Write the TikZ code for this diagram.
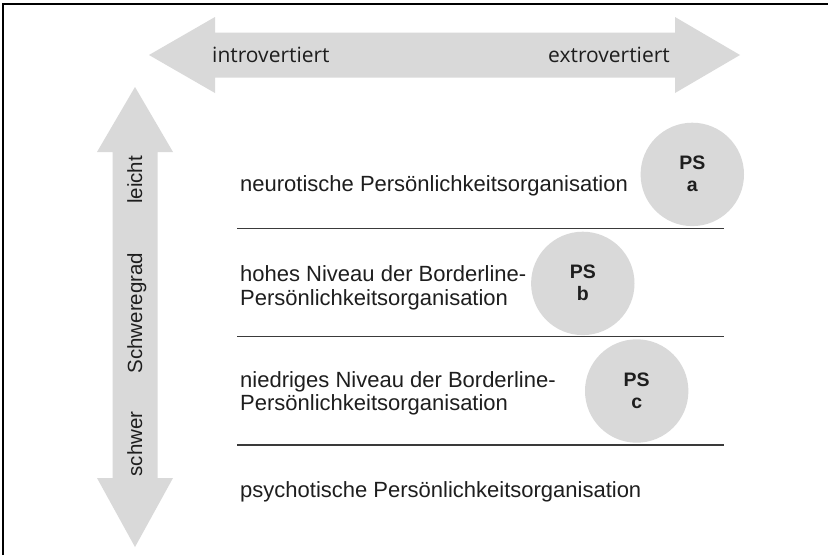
\documentclass[tikz,border=0pt]{standalone}
\usepackage{fontspec}
\setmainfont{Liberation Sans}
\newfontfamily\arrowfont{Open Sans}
\usetikzlibrary{calc}
\definecolor{lightfill}{HTML}{D9D9D9}
\definecolor{ink}{HTML}{1E1E1E}
\definecolor{rulegray}{HTML}{3A3A3A}
\begin{document}
\begin{tikzpicture}[x=1pt,y=-1pt,
  lbl/.style={anchor=base west, inner sep=0pt, text=ink, font=\fontsize{22}{24}\selectfont},
  axislbl/.style={inner sep=0pt, text=ink, font=\arrowfont\fontsize{21}{24}\selectfont},
  vlbl/.style={rotate=90, anchor=base, inner sep=0pt, text=ink, font=\fontsize{20.5}{24}\selectfont},
  pscircle/.style={circle, fill=lightfill, minimum size=103.4pt, inner sep=0pt},
  pstext/.style={anchor=base, inner sep=0pt, text=ink, font=\bfseries\fontsize{19.5}{21}\selectfont},
  seprule/.style={draw=rulegray, line width=1.4pt}]
\useasboundingbox (0,0) rectangle (828,555);
\fill[white] (0,0) rectangle (828,555);
\draw[line width=1.6pt, black] (3,555) -- (3,4) -- (828,4);
% horizontal double arrow
\fill[lightfill] (149,55) -- (215,17) -- (215,32.5) -- (675,32.5) -- (675,17) -- (740,55)
  -- (675,93) -- (675,77.5) -- (215,77.5) -- (215,93) -- cycle;
% vertical double arrow
\fill[lightfill] (135,87) -- (173,152) -- (157.5,152) -- (157.5,478) -- (173,478) -- (135,547)
  -- (97,478) -- (112.5,478) -- (112.5,152) -- (97,152) -- cycle;
\node[axislbl, anchor=base west] (intro) at (212,62) {introvertiert};
\node[axislbl, anchor=base east] (extro) at (670,62) {extrovertiert};
\node[vlbl] (leicht) at (142,180) {leicht};
\node[vlbl] (grad) at (142,313) {Schweregrad};
\node[vlbl] (schwer) at (142,444) {schwer};
% separators
\draw[seprule] (237,228.5) -- (724,228.5);
\draw[seprule] (237,336.7) -- (724,336.7);
\draw[seprule] (237,445) -- (724,445);
% circles
\node[pscircle] (psa) at (692.3,174.4) {};
\node[pscircle] (psb) at (582.8,283.4) {};
\node[pscircle] (psc) at (636.7,391) {};
\foreach \c/\l in {psa/a, psb/b, psc/c}{
  \node[pstext] (\c-top) at ($(\c.center)+(0,-4.5)$) {PS};
  \node[pstext] (\c-bot) at ($(\c.center)+(0,17)$) {\l};
}
% texts
\node[lbl] (t1) at (240,191) {neurotische Persönlichkeitsorganisation};
\node[lbl] (t2a) at (240,281.5) {hohes Niveau der Borderline-};
\node[lbl] (t2b) at (240,305) {Persönlichkeitsorganisation};
\node[lbl] (t3a) at (240,387) {niedriges Niveau der Borderline-};
\node[lbl] (t3b) at (240,410) {Persönlichkeitsorganisation};
\node[lbl] (t4) at (240,497) {psychotische Persönlichkeitsorganisation};
\end{tikzpicture}
\end{document}
